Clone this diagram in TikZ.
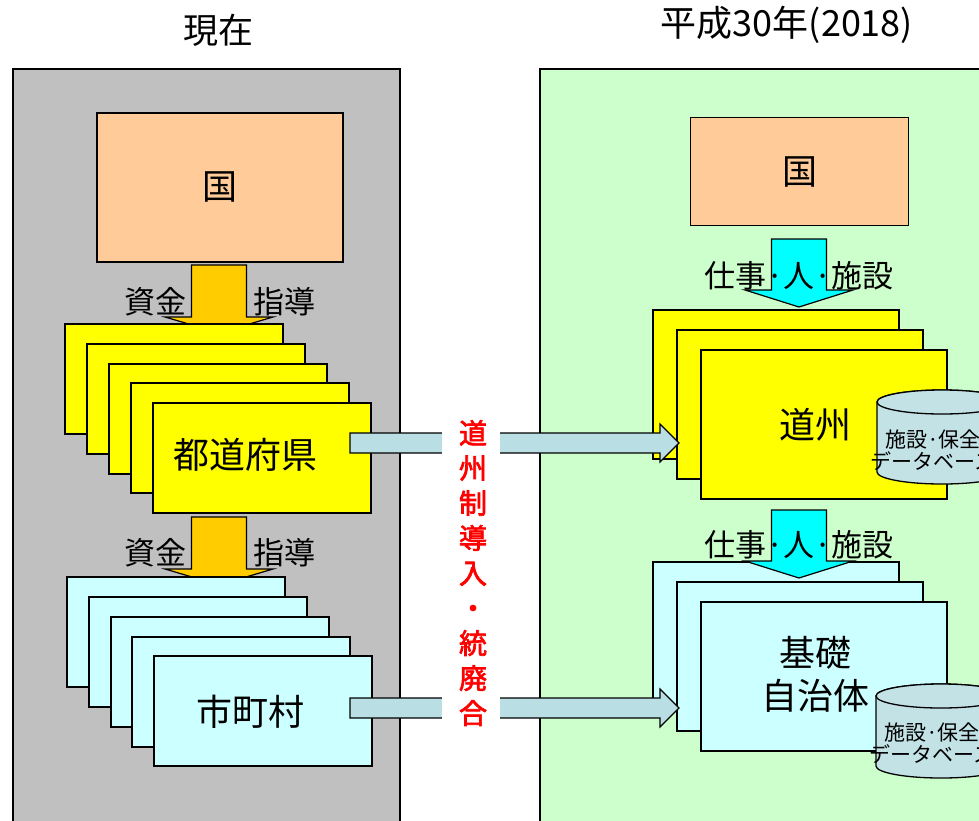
\documentclass[tikz,border=0pt]{standalone}
\usepackage{fontspec}
\setmainfont{Noto Sans CJK JP}
\newfontfamily\redfont[FakeBold=2.5]{Noto Sans CJK JP}
\definecolor{panelgray}{HTML}{C0C0C0}
\definecolor{panelgreen}{HTML}{CCFFCC}
\definecolor{kunifill}{HTML}{FFCC99}
\definecolor{yel}{HTML}{FFFF00}
\definecolor{lcyan}{HTML}{CCFFFF}
\definecolor{orarrow}{HTML}{FFCC00}
\definecolor{cyarrow}{HTML}{00FFFF}
\definecolor{harrow}{HTML}{B9DFE4}
\definecolor{cylfill}{HTML}{C2E2E6}
\tikzset{
  panel/.style={draw=black, line width=2pt, anchor=north west, inner sep=0pt},
  kuni/.style={draw=black, line width=1.5pt, fill=kunifill, anchor=north west, inner sep=0pt, font=\fontsize{35}{40}\selectfont},
  ybox/.style={draw=black, line width=1.5pt, fill=yel, anchor=north west, inner sep=0pt},
  cbox/.style={draw=black, line width=1.5pt, fill=lcyan, anchor=north west, inner sep=0pt},
  lbl/.style={inner sep=0pt, font=\fontsize{36}{43}\selectfont, align=center},
  small/.style={inner sep=0pt, font=\fontsize{31}{34}\selectfont},
  title/.style={inner sep=0pt, font=\fontsize{35}{40}\selectfont},
  blk/.style={draw=black, line width=1.2pt},
  cyl/.style={draw=black, line width=1.3pt, fill=cylfill},
  dbtext/.style={inner sep=0pt, font=\fontsize{21}{22}\selectfont, align=center},
}
\newcommand\blockdown[5]{% cx, top, headbase, tip, color
  \draw[blk, fill=#5] ({#1-27.5},#2) -- ({#1+27.5},#2) -- ({#1+27.5},#3) -- ({#1+54},#3) -- (#1,#4) -- ({#1-54},#3) -- ({#1-27.5},#3) -- cycle;}
\newcommand\cylshape[3]{% cx, topcy, botcy
  \draw[cyl] ({#1-65},#2) -- ({#1-65},#3) arc[start angle=180,end angle=360,x radius=65pt,y radius=12pt]
     -- ({#1+65},#2) arc[start angle=0,end angle=180,x radius=65pt,y radius=12pt] -- cycle;
  \draw[cyl] (#1,#2) ellipse[x radius=65pt,y radius=12pt];}
\begin{document}
\begin{tikzpicture}[x=1pt,y=-1pt]
\useasboundingbox (0,0) rectangle (979,820);
\clip (0,0) rectangle (979,820);
% titles
\node[title] (tL) at (218,30) {現在};
\node[title, font=\fontsize{36}{40}\selectfont] (tR) at (787,25) {平成30年(2018)};
% panels
\node[panel, fill=panelgray, minimum width=387, minimum height=790] (pL) at (12,68) {};
\node[panel, fill=panelgreen, minimum width=480, minimum height=790] (pR) at (539,68) {};
% left side
\node[kuni, minimum width=246, minimum height=149] (kL) at (96,112) {国};
\blockdown{219}{265}{317}{333}{orarrow}
\node[small] (s1) at (155,302) {資金};
\node[small] (g1) at (284,302) {指導};
\node[ybox, minimum width=218, minimum height=110] (f1) at (64,323) {};
\node[ybox, minimum width=218, minimum height=110] (f2) at (86,343) {};
\node[ybox, minimum width=218, minimum height=110] (f3) at (108,363) {};
\node[ybox, minimum width=218, minimum height=110] (f4) at (130,382) {};
\node[ybox, minimum width=218, minimum height=110] (f5) at (152,402) {};
\node[lbl] (fT) at (245,455) {都道府県};
\blockdown{219}{517}{569}{585}{orarrow}
\node[small] (s2) at (155,553) {資金};
\node[small] (g2) at (284,553) {指導};
\node[cbox, minimum width=218, minimum height=110] (m1) at (66,576) {};
\node[cbox, minimum width=218, minimum height=110] (m2) at (88,596) {};
\node[cbox, minimum width=218, minimum height=110] (m3) at (110,616) {};
\node[cbox, minimum width=218, minimum height=110] (m4) at (131,636) {};
\node[cbox, minimum width=218, minimum height=110] (m5) at (153,655) {};
\node[lbl] (mT) at (250,712) {市町村};
% right side
\node[kuni, line width=1.2pt, minimum width=218, minimum height=108] (kR) at (690,117) {国};
\node[ybox, minimum width=246, minimum height=149] (d1) at (652,309) {};
\node[ybox, minimum width=246, minimum height=149] (d2) at (676,329) {};
\node[ybox, minimum width=246, minimum height=149] (d3) at (700,349) {};
\blockdown{799}{239}{290}{307}{cyarrow}
\node[small] (w1) at (799,276) {仕事·人·施設};
\node[lbl] (dT) at (815,425) {道州};
\cylshape{942}{402}{472}
\node[dbtext] (db1) at (933,450) {施設·保全\\データベース};
\node[cbox, minimum width=246, minimum height=149] (k1) at (652,561) {};
\node[cbox, minimum width=246, minimum height=149] (k2) at (676,581) {};
\node[cbox, minimum width=246, minimum height=149] (k3) at (700,601) {};
\blockdown{799}{510}{561}{578}{cyarrow}
\node[small] (w2) at (799,545) {仕事·人·施設};
\node[lbl] (kT) at (815,674) {基礎\\自治体};
\cylshape{941}{696}{766}
\node[dbtext] (db2) at (932,743) {施設·保全\\データベース};
% horizontal arrows
\draw[blk, fill=harrow] (350,433) -- (660,433) -- (660,424) -- (679,443) -- (660,462) -- (660,453) -- (350,453) -- cycle;
\draw[blk, fill=harrow] (350,698) -- (660,698) -- (660,689) -- (679,708) -- (660,727) -- (660,718) -- (350,718) -- cycle;
\node[fill=white, minimum width=58, minimum height=320, inner sep=0pt] (gap) at (471,575) {};
\node[inner sep=0pt, text=red, align=center, font=\redfont\fontsize{28}{35}\selectfont] (red) at (473,573) {道\\州\\制\\導\\入\\・\\統\\廃\\合};
\end{tikzpicture}
\end{document}
